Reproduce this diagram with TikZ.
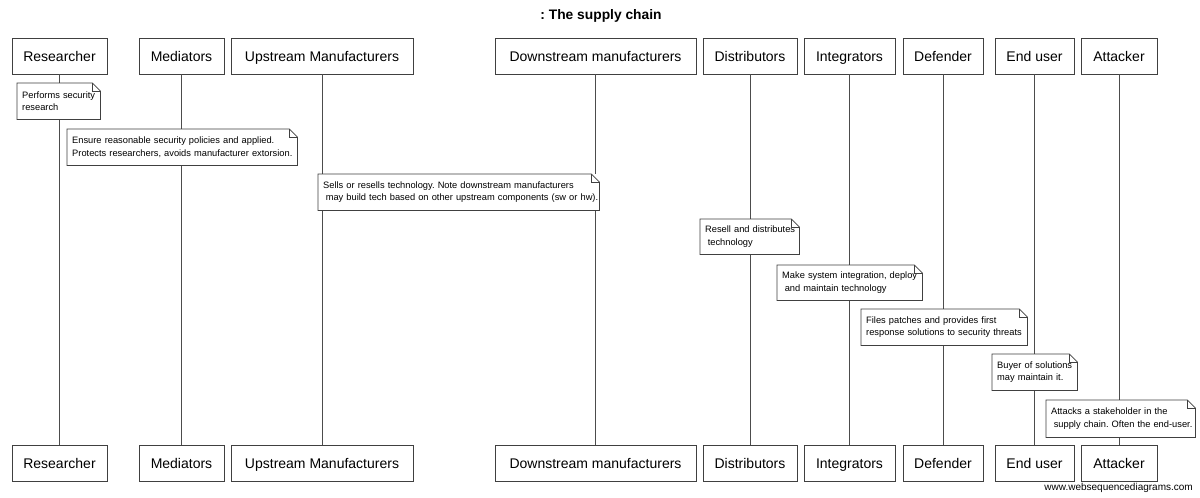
\documentclass[tikz,border=0pt]{standalone}
\usepackage{fontspec}
\setmainfont{Liberation Sans}
\frenchspacing
\begin{document}
\begin{tikzpicture}[x=1pt,y=-1pt,
  part/.style={draw=black!75, line width=0.9pt, fill=white, minimum height=36pt, inner sep=0pt, text height=11.5pt, text depth=1.5pt, font=\fontsize{14}{16}\selectfont},
  life/.style={draw=black!70, line width=0.9pt},
  notebox/.style={anchor=north west, fill=white, inner xsep=5pt, inner ysep=0pt, align=left, font=\fontsize{9.3}{12.5}\selectfont},
  noteline/.style={draw=black!75, line width=0.8pt},
]
\useasboundingbox[fill=white] (0,0) rectangle (1200,498);

\node[font=\bfseries\fontsize{13.8}{16}\selectfont] (title) at (601,16) {: The supply chain};

% participants top
\node[part, minimum width=95pt] (resT) at (59.5,56) {Researcher};
\node[part, minimum width=85pt] (medT) at (181.5,56) {Mediators};
\node[part, minimum width=182pt] (upT) at (322,56) {Upstream Manufacturers};
\node[part, minimum width=201pt] (downT) at (595.5,56) {Downstream manufacturers};
\node[part, minimum width=94pt] (disT) at (750,56) {Distributors};
\node[part, minimum width=91pt] (intT) at (849.5,56) {Integrators};
\node[part, minimum width=80pt] (defT) at (943,56) {Defender};
\node[part, minimum width=79pt] (endT) at (1034.5,56) {End user};
\node[part, minimum width=76pt] (attT) at (1119,56) {Attacker};
% participants bottom
\node[part, minimum width=95pt] (resB) at (59.5,463) {Researcher};
\node[part, minimum width=85pt] (medB) at (181.5,463) {Mediators};
\node[part, minimum width=182pt] (upB) at (322,463) {Upstream Manufacturers};
\node[part, minimum width=201pt] (downB) at (595.5,463) {Downstream manufacturers};
\node[part, minimum width=94pt] (disB) at (750,463) {Distributors};
\node[part, minimum width=91pt] (intB) at (849.5,463) {Integrators};
\node[part, minimum width=80pt] (defB) at (943,463) {Defender};
\node[part, minimum width=79pt] (endB) at (1034.5,463) {End user};
\node[part, minimum width=76pt] (attB) at (1119,463) {Attacker};

% lifelines
\foreach \p in {res,med,up,down,dis,int,def,end,att}
  \draw[life] (\p T) -- (\p B);

% notes
\node[notebox, minimum width=83pt, minimum height=36pt, text width=73pt] (n1) at (17,83)
  {\mbox{Performs security}\\\mbox{research}};
\node[notebox, minimum width=230pt, minimum height=36pt, text width=220pt] (n2) at (67,129)
  {\mbox{Ensure reasonable security policies and applied.}\\\mbox{Protects researchers, avoids manufacturer extorsion.}};
\node[notebox, minimum width=281pt, minimum height=36pt, text width=271pt] (n3) at (318,174)
  {\mbox{Sells or resells technology. Note downstream manufacturers}\\\mbox{\hspace*{0.28em}may build tech based on other upstream components (sw or hw).}};
\node[notebox, minimum width=99pt, minimum height=35pt, text width=89pt] (n4) at (700,219)
  {\mbox{Resell and distributes}\\\mbox{\hspace*{0.28em}technology}};
\node[notebox, minimum width=145pt, minimum height=35pt, text width=135pt] (n5) at (777,265)
  {\mbox{Make system integration, deploy}\\\mbox{\hspace*{0.28em}and maintain technology}};
\node[notebox, minimum width=166pt, minimum height=36pt, text width=156pt] (n6) at (861,309)
  {\mbox{Files patches and provides first}\\\mbox{response solutions to security threats}};
\node[notebox, minimum width=85pt, minimum height=36pt, text width=75pt] (n7) at (992,354)
  {\mbox{Buyer of solutions}\\\mbox{may maintain it.}};
\node[notebox, minimum width=149pt, minimum height=37pt, text width=139pt] (n8) at (1046,400)
  {\mbox{Attacks a stakeholder in the}\\\mbox{\hspace*{0.28em}supply chain. Often the end-user.}};

\foreach \n in {n1,n2,n3,n4,n5,n6,n7,n8}{
  \draw[noteline] (\n.north west) -- ([xshift=-8pt]\n.north east) -- ([yshift=-8pt]\n.north east) -- (\n.south east) -- (\n.south west) -- cycle;
  \draw[noteline, line width=0.6pt] ([xshift=-8pt]\n.north east) -- ([xshift=-8pt,yshift=-8pt]\n.north east) -- ([yshift=-8pt]\n.north east);
}

\node[anchor=east, font=\fontsize{10}{12}\selectfont, inner sep=0pt] (wm) at (1193,488) {www.websequencediagrams.com};
\end{tikzpicture}
\end{document}
